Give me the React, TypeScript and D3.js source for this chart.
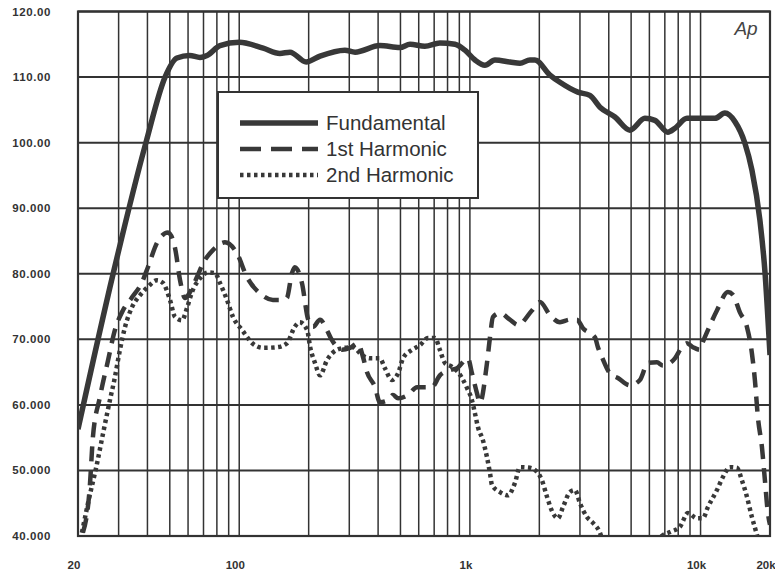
import React from "react";
import * as d3 from "d3";

const freqGrid = [20, 30, 40, 50, 60, 70, 80, 90, 100, 200, 300, 400, 500, 600, 700, 800, 900, 1000, 2000, 3000, 4000, 5000, 6000, 7000, 8000, 9000, 10000, 20000];
const dbTicks = [40, 50, 60, 70, 80, 90, 100, 110, 120];
const dbTickLabels = ["40.000", "50.000", "60.000", "70.000", "80.000", "90.000", "100.00", "110.00", "120.00"];
const freqLabelValues = [20, 100, 1000, 10000, 20000];
const freqLabels = ["20", "100", "1k", "10k", "20k"];

const fundFreq = [20, 28.4, 39.4, 47.7, 53.7, 61, 67.6, 72.5, 82.5, 100, 127, 150, 166, 195, 224, 287, 318, 407, 497, 550, 638, 741, 862, 952, 1052, 1162, 1284, 1492, 1648, 1820, 1914, 2224, 2457, 2938, 3312, 3663, 4254, 4941, 5738, 6340, 7216, 7745, 8730, 9940, 11540, 12750, 14090, 15570, 16700, 18080, 19000, 20000];
const fundDb = [56.3, 80, 100, 110, 112.9, 113.3, 113, 113.3, 114.8, 115.3, 114.4, 113.6, 113.8, 112.3, 113.2, 114.1, 113.8, 114.8, 114.5, 115, 114.7, 115.2, 115, 114.1, 112.6, 111.8, 112.6, 112.3, 112.1, 112.6, 112.6, 110.3, 109.2, 107.7, 107.2, 105.4, 103.9, 101.9, 103.7, 103.4, 101.6, 102.2, 103.7, 103.7, 103.7, 104.5, 103.2, 99.9, 95.8, 88.2, 80.5, 67.6];

const h1Freq = [21.0, 22.5, 23.2, 24.9, 27.0, 28.9, 31.3, 34.3, 37.9, 40.2, 44.0, 49.1, 52.7, 55.4, 58.2, 61.2, 65.6, 69.7, 76.9, 86.7, 97.8, 108, 123, 140, 155, 161, 169, 174, 187, 199, 209, 224, 240, 252, 279, 302, 327, 344, 358, 388, 407, 441, 464, 488, 539, 590, 684, 741, 820, 879, 981, 1021, 1073, 1105, 1186, 1222, 1259, 1350, 1491, 1616, 1858, 2012, 2224, 2457, 2715, 2911, 3090, 3484, 3589, 3734, 4046, 4382, 4941, 5458, 5912, 6470, 6869, 7741, 8299, 8727, 9264, 9932, 10234, 10760, 11772, 13138, 13808, 14810, 15882, 16692, 17200, 17726, 18448, 19010, 19586, 20000];
const h1Db = [40.5, 47.5, 55, 61.2, 66.8, 71.4, 74.4, 76.4, 78.7, 81, 84.7, 86.3, 83.9, 79, 76.3, 77.2, 79.5, 81.6, 83.6, 84.8, 83.1, 79.5, 77, 76, 76, 76.3, 80, 81, 78.6, 73, 71.9, 73, 71.4, 69.9, 68.4, 68.7, 69.4, 67.3, 65, 62.7, 60.4, 60.7, 61.5, 61, 61.5, 62.7, 62.7, 64.5, 65.3, 65.6, 67.1, 64.8, 61.8, 60.3, 66.4, 70.3, 73.4, 74, 73, 72.2, 74.4, 75.7, 73.7, 72.6, 73, 73, 71.7, 70.3, 68.8, 67.3, 64.8, 64.1, 63, 63.8, 66.4, 66.5, 66, 67.1, 68.8, 69.4, 68.8, 68.4, 69.6, 71.4, 74.4, 77.2, 76.8, 74.1, 71.9, 67.9, 63.8, 58.1, 53.6, 48.5, 43.5, 41.7];

const h2Freq = [20.8, 22.1, 24.2, 25.7, 27.5, 28.9, 30.4, 32.0, 34.3, 37.1, 40.2, 44.0, 46.7, 50.1, 52.7, 56.5, 59.4, 62.4, 67.6, 73.2, 78.5, 82.5, 88.5, 94.0, 103, 114, 127, 146, 161, 174, 183, 197, 203, 213, 224, 240, 265, 287, 311, 340, 369, 407, 428, 459, 488, 513, 561, 607, 658, 706, 741, 779, 836, 888, 924, 971, 1021, 1052, 1084, 1139, 1186, 1222, 1246, 1350, 1462, 1568, 1648, 1820, 1952, 2052, 2158, 2291, 2408, 2532, 2715, 2854, 3000, 3216, 3416, 3663, 3734, 4500, 6000, 6800, 7366, 8136, 8814, 9642, 10234, 10760, 11772, 12502, 13406, 14374, 15108, 15882, 16692, 17548, 18500];
const h2Db = [40.5, 45, 51.1, 55.7, 60.7, 64.2, 68.4, 71.9, 74.9, 76.7, 78, 79, 78.6, 76, 73.4, 72.9, 74.8, 77.2, 79.3, 80.2, 80.1, 78.6, 76, 73.4, 71.4, 69.4, 68.7, 68.8, 69.4, 71.9, 72.6, 71.4, 68.8, 66.4, 64.5, 66.8, 68.4, 68.7, 68.8, 67.6, 67.1, 67.1, 65.6, 63.8, 64.8, 67.1, 68.4, 69.1, 70.2, 70.2, 68.4, 66.4, 65.8, 65, 64.1, 62.6, 60.7, 58.7, 56.6, 54.6, 52, 49.6, 47.8, 46.7, 46.2, 48.1, 50.5, 50.4, 49.8, 48.5, 46, 43.5, 42.7, 44.4, 46.7, 47, 45, 42.9, 42, 40.5, 39.7, 37, 37, 40, 40.6, 41.4, 43.5, 42.7, 42.7, 44.4, 47, 49, 50.5, 50.4, 48.5, 46, 42.9, 40.2, 37];

const seriesNames = ["Fundamental", "1st Harmonic", "2nd Harmonic"];

const W = 775;
const H = 573;
const left = 78;
const right = 770;
const top = 11.5;
const bottom = 536;
const ink = "#383838";

export default function App() {
  const x = d3.scaleLog().domain([20, 20000]).range([left, right]);
  const y = d3.scaleLinear().domain([40, 120]).range([bottom, top]);
  const line = d3
    .line<[number, number]>()
    .x((d) => x(d[0]))
    .y((d) => y(d[1]))
    .curve(d3.curveMonotoneX);

  const fund = line(fundFreq.map((f, i) => [f, fundDb[i]] as [number, number])) || "";
  const h1 = line(h1Freq.map((f, i) => [f, h1Db[i]] as [number, number])) || "";
  const h2 = line(h2Freq.map((f, i) => [f, h2Db[i]] as [number, number])) || "";

  const labelFont = "'Liberation Sans', Arial, sans-serif";
  const legendX = 218;
  const legendY = 92;
  const rowY = [123, 149, 175];
  const styles = [
    { w: 5.5, dash: undefined as string | undefined },
    { w: 4.5, dash: "21 10" },
    { w: 4.5, dash: "3.5 3.5" },
  ];

  return (
    <svg width={W} height={H} style={{ position: "absolute", left: 0, top: 0, background: "#fff" }}>
      <defs>
        <clipPath id="plot">
          <rect x={left} y={top} width={right - left} height={bottom - top} />
        </clipPath>
      </defs>
      <rect x={0} y={0} width={W} height={H} fill="#fff" />
      {freqGrid.map((f) => (
        <line key={"v" + f} x1={x(f)} x2={x(f)} y1={top} y2={bottom} stroke="#333" strokeWidth={1.5} />
      ))}
      {dbTicks.map((v) => (
        <line key={"h" + v} x1={left} x2={right} y1={y(v)} y2={y(v)} stroke="#333" strokeWidth={2} />
      ))}
      <rect x={left} y={top} width={right - left} height={bottom - top} fill="none" stroke="#333" strokeWidth={2.2} />
      {dbTicks.map((v, i) => (
        <text key={"yl" + v} x={51} y={y(v) + 4} textAnchor="end" fontFamily={labelFont} fontWeight="bold" fontSize={11.5} letterSpacing={0.6} fill="#333">
          {dbTickLabels[i]}
        </text>
      ))}
      {freqLabelValues.map((f, i) => (
        <text key={"xl" + f} x={x(f) - 4} y={569} textAnchor="middle" fontFamily={labelFont} fontWeight="bold" fontSize={11.5} fill="#333">
          {freqLabels[i]}
        </text>
      ))}
      <text x={746} y={35} textAnchor="middle" fontFamily={labelFont} fontStyle="italic" fontSize={19} fill="#444">
        Ap
      </text>
      <g clipPath="url(#plot)" fill="none" stroke={ink}>
        <path d={h2} strokeWidth={styles[2].w} strokeDasharray={styles[2].dash} />
        <path d={h1} strokeWidth={styles[1].w} strokeDasharray="15 9" />
        <path d={fund} strokeWidth={styles[0].w} strokeLinejoin="round" />
      </g>
      <rect x={legendX} y={legendY} width={260} height={106} fill="#fff" stroke="#333" strokeWidth={2} />
      {seriesNames.map((name, i) => (
        <g key={name}>
          <line x1={240} x2={318} y1={rowY[i]} y2={rowY[i]} stroke={ink} strokeWidth={styles[i].w} strokeDasharray={styles[i].dash} />
          <text x={326} y={rowY[i] + 7} fontFamily={labelFont} fontSize={20.5} fill="#333">
            {name}
          </text>
        </g>
      ))}
    </svg>
  );
}
